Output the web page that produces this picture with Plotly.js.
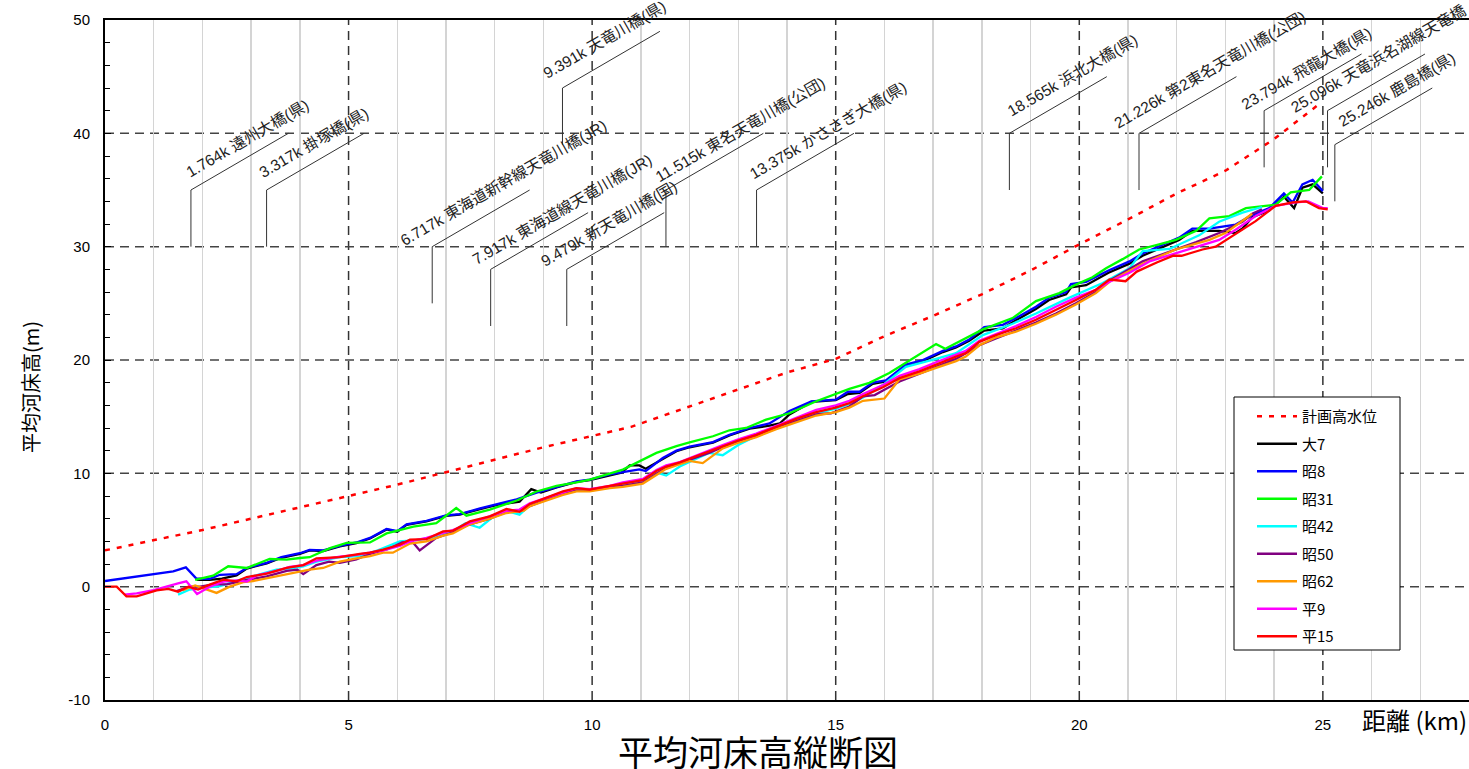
<!DOCTYPE html>
<html>
<head>
<meta charset="utf-8">
<script src="https://cdn.plot.ly/plotly-3.0.1.min.js"></script>
<style>
  html, body { margin: 0; padding: 0; background: #fff; }
  #chart { width: 1469px; height: 769px; }
</style>
</head>
<body>
<div id="chart"></div>
<script>
// 計画高水位
const hwlKm = [0, 1, 2, 3, 4, 5, 6, 7, 8, 9, 10, 10.8, 11, 12, 13, 14, 15, 16, 17, 18, 19, 20, 21, 22, 23, 24, 24.96];
const hwlZ  = [3.2, 4.1, 5.0, 6.0, 7.0, 8.0, 9.0, 10.1, 11.2, 12.3, 13.3, 14.1, 14.4, 15.9, 17.4, 18.9, 20.1, 22.1, 23.9, 25.8, 27.9, 30.2, 32.4, 34.7, 36.7, 39.5, 42.7];

// 大7
const t7Km = [1.88, 2.15, 2.4, 2.7, 2.91, 3.32, 3.62, 4.0, 4.2, 4.48, 4.82, 5.16, 5.44, 5.78, 6.0, 6.19, 6.6, 7.0, 7.28, 7.7, 8.1, 8.51, 8.75, 8.95, 9.27, 9.68, 9.95, 10.36, 10.6, 10.77, 10.97, 11.1, 11.45, 11.73, 12.0, 12.48, 12.82, 13.23, 13.64, 13.85, 14.05, 14.5, 15.0, 15.25, 15.49, 15.76, 16.03, 16.44, 16.79, 17.2, 17.47, 17.74, 18.05, 18.43, 18.7, 19.11, 19.38, 19.73, 19.83, 20.14, 20.6, 21.03, 21.3, 21.71, 22.05, 22.32, 22.87, 23.21, 23.35, 23.55, 23.9, 24.2, 24.41, 24.58, 24.79, 25.0];
const t7Z  = [0.6, 0.6, 0.7, 1.0, 1.6, 2.05, 2.55, 2.9, 3.2, 3.15, 3.55, 3.85, 4.25, 5.05, 4.85, 5.45, 5.75, 6.25, 6.35, 6.85, 7.25, 7.5, 8.6, 8.3, 8.75, 9.25, 9.4, 9.85, 10.05, 10.7, 10.7, 10.4, 11.3, 11.95, 12.3, 12.7, 13.35, 13.95, 14.2, 14.4, 15.2, 16.3, 16.45, 17.0, 17.1, 17.9, 18.1, 19.5, 19.9, 20.7, 21.1, 21.7, 22.6, 22.8, 23.5, 24.5, 25.3, 25.8, 26.4, 26.6, 27.7, 28.5, 29.2, 30.0, 30.6, 31.4, 31.4, 31.2, 31.6, 32.6, 33.2, 34.4, 33.4, 35.2, 35.5, 34.7];

// 昭8
const s8Km = [0, 0.5, 1.0, 1.4, 1.66, 1.88, 2.15, 2.36, 2.7, 2.91, 3.32, 3.62, 4.0, 4.2, 4.48, 4.82, 5.16, 5.44, 5.78, 6.0, 6.19, 6.6, 7.0, 7.28, 7.7, 8.1, 8.45, 8.86, 9.27, 9.68, 9.95, 10.36, 10.63, 10.97, 11.1, 11.45, 11.73, 12.0, 12.48, 12.82, 13.23, 13.64, 14.05, 14.5, 15.0, 15.25, 15.49, 15.76, 16.03, 16.44, 16.79, 17.2, 17.47, 17.74, 18.05, 18.43, 18.7, 19.11, 19.38, 19.73, 19.83, 20.14, 20.6, 21.03, 21.3, 21.71, 22.05, 22.32, 22.67, 23.21, 23.55, 23.9, 24.2, 24.38, 24.58, 24.79, 25.0];
const s8Z  = [0.5, 0.8, 1.1, 1.35, 1.7, 0.7, 0.7, 1.05, 1.1, 1.65, 2.1, 2.6, 2.95, 3.25, 3.2, 3.6, 3.9, 4.3, 5.1, 4.9, 5.5, 5.8, 6.3, 6.4, 6.9, 7.3, 7.7, 8.3, 8.8, 9.3, 9.45, 9.9, 10.1, 10.35, 10.2, 11.35, 12.0, 12.35, 12.75, 13.4, 14.0, 14.4, 15.5, 16.35, 16.5, 17.2, 17.2, 18.0, 18.2, 19.6, 20.0, 20.8, 21.2, 21.8, 22.9, 23.1, 23.7, 24.7, 25.5, 26.0, 26.7, 26.9, 27.9, 28.7, 29.4, 30.2, 30.8, 31.6, 31.6, 31.95, 32.8, 33.4, 34.7, 33.9, 35.5, 35.9, 34.9];

// 昭31
const s31Km = [1.85, 2.22, 2.53, 2.91, 3.38, 3.73, 4.0, 4.2, 4.62, 4.96, 5.44, 5.78, 6.33, 6.8, 7.21, 7.42, 7.9, 8.45, 8.86, 9.27, 9.68, 9.95, 10.63, 11.32, 11.73, 12.0, 12.48, 12.82, 13.16, 13.57, 14.05, 14.6, 15.28, 15.69, 16.1, 16.44, 17.06, 17.25, 17.6, 18.02, 18.63, 19.11, 19.59, 19.93, 20.27, 20.55, 20.89, 21.23, 21.64, 21.98, 22.4, 22.67, 23.08, 23.42, 24.03, 24.34, 24.72, 24.98];
const s31Z  = [0.6, 0.97, 1.8, 1.65, 2.44, 2.38, 2.53, 2.6, 3.4, 3.86, 3.9, 4.7, 5.3, 5.6, 6.94, 6.26, 6.8, 7.6, 8.4, 8.9, 9.2, 9.44, 10.33, 11.8, 12.4, 12.74, 13.27, 13.8, 14.0, 14.74, 15.3, 16.36, 17.45, 17.98, 18.86, 19.75, 21.4, 21.0, 21.8, 22.7, 23.7, 25.2, 25.9, 26.65, 27.3, 28.1, 28.9, 29.75, 30.2, 30.6, 31.4, 32.5, 32.7, 33.4, 33.7, 34.8, 35.0, 36.2];

// 昭42
const s42Km = [1.5, 1.74, 2.0, 2.36, 2.77, 3.12, 3.52, 3.79, 4.07, 4.34, 4.82, 5.23, 5.6, 6.05, 6.4, 6.8, 7.14, 7.4, 7.69, 7.95, 8.24, 8.51, 8.72, 9.13, 9.4, 9.68, 9.95, 10.36, 10.63, 11.04, 11.3, 11.52, 11.8, 12.14, 12.4, 12.68, 13.0, 13.37, 13.78, 14.19, 14.6, 15.0, 15.28, 15.56, 15.97, 16.44, 17.06, 17.47, 18.02, 18.63, 19.11, 19.8, 20.48, 21.03, 21.3, 21.85, 22.46, 22.87, 23.35, 23.75];
const s42Z  = [-0.7, -0.25, -0.1, 0.05, 0.6, 1.0, 1.5, 1.6, 1.8, 2.2, 2.6, 2.7, 3.2, 4.0, 4.1, 4.4, 4.9, 5.6, 5.2, 6.1, 6.7, 6.35, 7.2, 7.9, 8.3, 8.6, 8.5, 8.8, 9.0, 9.4, 10.1, 9.8, 10.6, 11.3, 11.8, 11.6, 12.5, 13.3, 14.0, 14.7, 15.3, 15.7, 16.1, 16.7, 17.8, 19.4, 20.1, 20.6, 22.2, 23.2, 24.1, 25.5, 26.8, 28.1, 29.6, 29.8, 31.0, 32.2, 33.0, 33.5];

// 昭50
const s50Km = [1.47, 1.74, 1.95, 2.22, 2.5, 2.91, 3.32, 3.73, 3.95, 4.07, 4.34, 4.6, 4.82, 5.16, 5.44, 5.8, 6.1, 6.3, 6.46, 6.8, 7.14, 7.49, 7.9, 8.24, 8.51, 8.72, 9.13, 9.4, 9.68, 9.95, 10.36, 10.63, 11.04, 11.32, 11.52, 11.8, 12.14, 12.4, 12.68, 13.0, 13.37, 13.78, 14.19, 14.6, 14.9, 15.28, 15.56, 15.8, 15.97, 16.31, 16.72, 17.06, 17.47, 17.67, 17.95, 18.29, 18.7, 19.11, 19.52, 19.93, 20.34, 20.62, 21.3, 21.98, 22.4, 22.87, 23.35, 23.55, 23.75];
const s50Z  = [-0.4, 0.0, 0.0, 0.2, 0.2, 0.6, 0.9, 1.4, 1.5, 1.1, 1.9, 2.2, 2.1, 2.4, 2.9, 3.3, 3.9, 4.0, 3.2, 4.3, 4.8, 5.5, 6.0, 6.6, 6.7, 7.1, 7.8, 8.2, 8.5, 8.5, 8.8, 8.9, 9.2, 10.0, 10.5, 10.9, 11.4, 11.8, 12.3, 12.8, 13.3, 14.0, 14.6, 15.2, 15.3, 15.9, 16.8, 16.9, 17.3, 18.1, 18.8, 19.4, 20.1, 20.6, 21.3, 21.9, 22.6, 23.3, 24.1, 25.0, 26.0, 27.0, 28.7, 29.75, 30.4, 31.2, 32.2, 32.9, 33.3];

// 昭62
const s62Km = [1.6, 1.85, 2.05, 2.29, 2.56, 2.84, 3.04, 3.45, 3.73, 4.0, 4.2, 4.48, 4.82, 5.16, 5.44, 5.71, 5.91, 6.26, 6.6, 6.94, 7.14, 7.49, 7.9, 8.24, 8.6, 8.72, 9.13, 9.4, 9.68, 9.95, 10.36, 10.63, 11.04, 11.32, 11.52, 11.8, 12.0, 12.27, 12.68, 13.0, 13.37, 13.78, 14.19, 14.6, 15.0, 15.28, 15.56, 15.85, 16.0, 16.31, 16.72, 17.06, 17.47, 17.67, 17.95, 18.29, 18.7, 19.11, 19.52, 19.93, 20.34, 20.62, 21.3, 21.98, 22.67, 23.0, 23.35, 23.55];
const s62Z  = [-0.3, 0.1, -0.2, -0.55, 0.0, 0.4, 0.5, 0.85, 1.05, 1.3, 1.5, 1.65, 2.2, 2.5, 2.7, 3.0, 3.0, 3.8, 4.0, 4.5, 4.7, 5.5, 6.0, 6.5, 6.7, 7.1, 7.7, 8.1, 8.4, 8.4, 8.7, 8.8, 9.1, 9.9, 10.4, 10.8, 11.1, 10.9, 12.2, 12.7, 13.2, 13.9, 14.5, 15.1, 15.4, 15.8, 16.4, 16.5, 16.6, 18.3, 18.8, 19.3, 19.9, 20.3, 21.3, 22.0, 22.5, 23.2, 24.0, 24.9, 25.9, 26.9, 28.5, 29.75, 30.6, 31.2, 32.3, 32.9];

// 平9
const h9Km = [0.4, 0.65, 1.0, 1.3, 1.5, 1.67, 1.89, 2.15, 2.43, 2.7, 2.91, 3.12, 3.52, 3.79, 4.07, 4.34, 4.82, 5.16, 5.44, 5.71, 6.05, 6.26, 6.6, 6.94, 7.14, 7.49, 7.9, 8.24, 8.51, 8.72, 9.13, 9.4, 9.68, 9.95, 10.36, 10.63, 11.04, 11.32, 11.52, 11.8, 12.14, 12.4, 12.68, 13.0, 13.37, 13.78, 14.19, 14.6, 15.0, 15.28, 15.56, 15.97, 16.31, 16.72, 17.06, 17.47, 17.67, 17.95, 18.29, 18.7, 19.11, 19.52, 19.93, 20.34, 20.62, 21.03, 21.44, 22.26, 22.87, 23.21, 23.62, 24.03, 24.44, 24.7, 25.0, 25.1];
const h9Z  = [-0.7, -0.6, -0.3, 0.1, 0.3, 0.47, -0.65, 0.0, 0.45, 0.55, 0.45, 1.0, 1.4, 1.75, 1.9, 2.3, 2.65, 2.8, 3.0, 3.2, 3.6, 4.0, 4.3, 4.7, 5.0, 5.6, 6.2, 6.7, 6.8, 7.35, 7.95, 8.35, 8.7, 8.6, 8.9, 9.2, 9.5, 10.3, 10.7, 11.0, 11.6, 12.0, 12.5, 13.0, 13.5, 14.2, 14.9, 15.6, 16.0, 16.4, 17.0, 17.8, 18.6, 19.2, 19.8, 20.5, 20.8, 21.7, 22.3, 23.0, 23.8, 24.7, 25.5, 26.2, 26.9, 27.7, 28.7, 29.75, 30.6, 31.5, 32.7, 33.6, 33.9, 34.0, 33.4, 33.4];

// 平15
const h15Km = [0, 0.24, 0.44, 0.65, 1.06, 1.3, 1.5, 1.71, 1.91, 2.15, 2.43, 2.7, 2.91, 3.32, 3.73, 4.07, 4.34, 4.82, 5.23, 5.44, 5.71, 6.05, 6.26, 6.6, 6.94, 7.14, 7.49, 7.9, 8.24, 8.51, 8.72, 9.13, 9.4, 9.68, 9.95, 10.36, 10.63, 11.04, 11.32, 11.52, 11.8, 12.14, 12.4, 12.68, 13.0, 13.37, 13.78, 14.19, 14.6, 15.0, 15.28, 15.56, 15.97, 16.31, 16.72, 17.06, 17.47, 17.67, 17.95, 18.29, 18.7, 19.11, 19.52, 19.93, 20.34, 20.62, 20.95, 21.18, 21.59, 21.93, 22.1, 22.53, 22.8, 23.21, 23.62, 24.03, 24.38, 24.65, 24.92, 25.1];
const h15Z  = [0.0, 0.0, -0.85, -0.85, -0.33, -0.2, -0.44, 0.0, -0.26, 0.18, 0.62, 0.47, 0.85, 1.15, 1.65, 1.9, 2.5, 2.6, 2.9, 3.0, 3.27, 3.7, 4.15, 4.2, 4.88, 4.94, 5.76, 6.2, 6.86, 6.6, 7.3, 8.0, 8.4, 8.7, 8.56, 8.9, 9.1, 9.4, 10.2, 10.6, 10.97, 11.5, 11.9, 12.4, 12.9, 13.4, 14.1, 14.8, 15.4, 15.8, 16.2, 16.8, 17.6, 18.4, 19.0, 19.6, 20.3, 20.6, 21.6, 22.2, 22.8, 23.55, 24.4, 25.3, 26.2, 27.1, 26.95, 27.8, 28.6, 29.2, 29.2, 29.75, 30.0, 31.1, 32.25, 33.6, 33.9, 34.0, 33.4, 33.3];

// 橋梁位置
const bridgeKm   = [1.764, 3.317, 6.717, 7.917, 9.391, 9.479, 11.515, 13.375, 18.565, 21.226, 23.794, 25.096, 25.246];
const bridgeName = ['遠州大橋(県)', '掛塚橋(県)', '東海道新幹線天竜川橋(JR)', '東海道線天竜川橋(JR)', '天竜川橋(県)', '新天竜川橋(国)', '東名天竜川橋(公団)', 'かささぎ大橋(県)', '浜北大橋(県)', '第2東名天竜川橋(公団)', '飛龍大橋(県)', '天竜浜名湖線天竜橋', '鹿島橋(県)'];
const leaderBase = [30, 30, 25, 23, 39, 23, 30, 30, 35, 35, 37, 37, 34];
const leaderTop  = [35, 35, 30, 28, 44, 28, 35, 35, 40, 40, 42, 42, 39];

// label nudges in pixels (along the leader, per label)
const labelDx = [-11, -13, -37, -24, -25, -31, -16, -13, -8, -30, -28, -42, -2];
const labelDy = [7, 7, -5, -1, 4, -3, 2, 5, 11, -1, -5, -8, 12];

const seriesNames = ['計画高水位', '大7', '昭8', '昭31', '昭42', '昭50', '昭62', '平9', '平15'];
const seriesColors = ['#ff0000', '#000000', '#0000ff', '#00ff00', '#00ffff', '#800080', '#ff9900', '#ff00ff', '#ff0000'];
const seriesKm = [hwlKm, t7Km, s8Km, s31Km, s42Km, s50Km, s62Km, h9Km, h15Km];
const seriesZ  = [hwlZ, t7Z, s8Z, s31Z, s42Z, s50Z, s62Z, h9Z, h15Z];

const yTickVals = [-10, 0, 10, 20, 30, 40, 50];
const yTickText = ['-10', '0', '10', '20', '30', '40', '50'];

const latin = '"Liberation Sans", Arial, "Noto Sans CJK JP", sans-serif';
const narrow = '"Liberation Sans Narrow", "Arial Narrow", "Liberation Sans", Arial, sans-serif';
const cjk = '"Noto Sans CJK JP", "Noto Sans CJK SC", sans-serif';

const traces = seriesNames.map((name, i) => ({
  type: 'scatter',
  mode: 'lines',
  name: name,
  x: seriesKm[i],
  y: seriesZ[i],
  legendgroup: 'g' + i,
  line: i === 0
    ? { color: seriesColors[i], width: 2.5, dash: '5px,7px' }
    : { color: seriesColors[i], width: 2.3 },
  hoverinfo: 'x+y+name'
}));

const shapes = [];
// dashed reference grid every 5 km and every 10 m
[5, 10, 15, 20, 25].forEach(v => shapes.push({
  type: 'line', xref: 'x', yref: 'y', x0: v, x1: v, y0: -10, y1: 50,
  line: { color: '#333', width: 1.5, dash: '9px,6px' }, layer: 'below'
}));
[0, 10, 20, 30, 40].forEach(v => shapes.push({
  type: 'line', xref: 'x', yref: 'y', x0: 0, x1: 28, y0: v, y1: v,
  line: { color: '#444', width: 1.5, dash: '9px,6px' }, layer: 'below'
}));

// bridge leader lines and labels
const annotations = [];
bridgeKm.forEach((km, i) => {
  shapes.push({
    type: 'line', xref: 'x', yref: 'y', x0: km, x1: km, y0: leaderBase[i], y1: leaderTop[i],
    line: { color: '#333', width: 1 }, layer: 'above'
  });
  shapes.push({
    type: 'line', xref: 'x', yref: 'y', x0: km, x1: km + 2.0, y0: leaderTop[i], y1: leaderTop[i] + 5,
    line: { color: '#333', width: 1 }, layer: 'above'
  });
  annotations.push({
    xref: 'x', yref: 'y', x: km, y: leaderTop[i],
    text: km.toFixed(3) + 'k ' + bridgeName[i],
    textangle: -30, showarrow: false,
    xanchor: 'left', yanchor: 'bottom', xshift: labelDx[i], yshift: labelDy[i],
    font: { family: latin, size: 15.5, color: '#222' }
  });
});

// legend frame
shapes.push({
  type: 'rect', xref: 'paper', yref: 'paper',
  x0: (1234 - 105) / 1364, x1: (1400 - 105) / 1364,
  y0: (700 - 650) / 680, y1: (700 - 397) / 680,
  fillcolor: '#ffffff', line: { color: '#000', width: 1 }, layer: 'above'
});

annotations.push({
  xref: 'paper', yref: 'paper', x: (30 - 105) / 1364, y: (700 - 387) / 680,
  text: '平均河床高(m)', textangle: -90, showarrow: false,
  xanchor: 'center', yanchor: 'middle',
  font: { family: cjk, size: 20, color: '#000' }
});
annotations.push({
  xref: 'paper', yref: 'paper', x: 1, y: (700 - 720) / 680,
  text: '距離 (km)', showarrow: false,
  xanchor: 'right', yanchor: 'middle',
  font: { family: cjk, size: 24, color: '#000' }
});
annotations.push({
  xref: 'paper', yref: 'paper', x: (758 - 105) / 1364, y: (700 - 750) / 680,
  text: '平均河床高縦断図', showarrow: false,
  xanchor: 'center', yanchor: 'middle',
  font: { family: cjk, size: 35, color: '#000' }
});

const layout = {
  width: 1469, height: 769,
  margin: { l: 105, r: 0, t: 20, b: 69 },
  paper_bgcolor: '#fff', plot_bgcolor: '#fff',
  showlegend: true,
  legend: {
    x: (1252 - 105) / 1364, y: (700 - 400) / 680, xanchor: 'left', yanchor: 'top',
    bgcolor: 'rgba(0,0,0,0)', borderwidth: 0, tracegroupgap: 5, itemwidth: 40,
    font: { family: cjk, size: 15, color: '#000' }
  },
  xaxis: {
    range: [0, 28], dtick: 5, tick0: 0,
    showgrid: false, zeroline: false,
    showline: true, linecolor: '#000', linewidth: 2, mirror: true,
    ticks: '', ticklabelstandoff: 10,
    minor: { dtick: 1, showgrid: true, gridcolor: '#d4d4d4', gridwidth: 1.5 },
    tickfont: { family: narrow, size: 15, color: '#000' }
  },
  yaxis: {
    range: [-10, 50], tickmode: 'array', tickvals: yTickVals, ticktext: yTickText,
    showgrid: false, zeroline: false,
    showline: true, linecolor: '#000', linewidth: 2,
    ticks: 'inside', ticklen: 6, tickcolor: '#000', tickwidth: 1,
    minor: { dtick: 2, tick0: 0, ticks: 'inside', ticklen: 5, tickcolor: '#000', showgrid: false },
    ticklabelstandoff: 10,
    tickfont: { family: narrow, size: 15, color: '#000' }
  },
  shapes: shapes,
  annotations: annotations
};

Plotly.newPlot('chart', traces, layout, { displayModeBar: false, staticPlot: true });
</script>
</body>
</html>
